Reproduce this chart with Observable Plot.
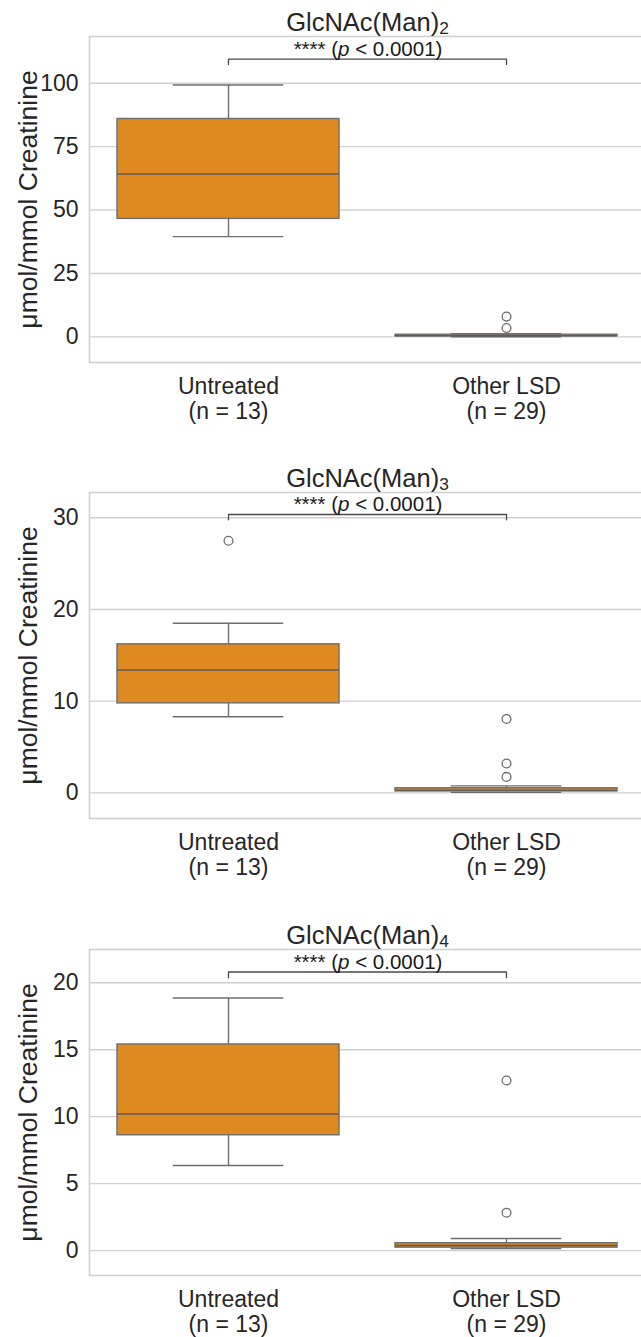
<!DOCTYPE html>
<html>
<head>
<meta charset="utf-8">
<script src="https://cdn.jsdelivr.net/npm/d3@7"></script>
<script src="https://cdn.jsdelivr.net/npm/@observablehq/plot@0.6"></script>
<style>
  html, body { margin: 0; padding: 0; background: #fff; }
  #root { position: relative; width: 641px; height: 1337px; overflow: hidden; background: #fff;
          font-family: "Liberation Sans", Arial, sans-serif; color: #262626; }
  .panel { position: absolute; left: 0; width: 646px; }
  .title { position: absolute; left: 89px; width: 557px; text-align: center; top: 10px;
           font-size: 25.5px; line-height: 25px; color: #262626; white-space: nowrap; }
  .title sub { font-size: 0.68em; vertical-align: -3px; line-height: 0; }
</style>
</head>
<body>
<div id="root"></div>
<script>
// ---- data ----
const groups = ["Untreated", "Other LSD"];
const groupN = [13, 29];
const yLabel = "μmol/mmol Creatinine";
const sigLabel = "**** (p < 0.0001)";

// titles: base + subscript
const titleBase = ["GlcNAc(Man)", "GlcNAc(Man)", "GlcNAc(Man)"];
const titleSub = ["2", "3", "4"];

// five-number summaries per group: [lower whisker, Q1, median, Q3, upper whisker]
const man2Untreated = [39.5, 46.5, 64.2, 85.9, 99.3];
const man2Other     = [0.05, 0.25, 0.45, 0.85, 1.3];
const man3Untreated = [8.3, 9.76, 13.4, 16.2, 18.5];
const man3Other     = [0.05, 0.15, 0.3, 0.5, 0.76];
const man4Untreated = [6.35, 8.61, 10.2, 15.39, 18.86];
const man4Other     = [0.15, 0.22, 0.38, 0.55, 0.9];

// outliers per group
const man2Outliers = [[], [3.5, 8.0]];
const man3Outliers = [[27.5], [1.74, 3.2, 8.06]];
const man4Outliers = [[], [2.83, 12.7]];

// y-axis ticks
const man2Ticks = [0, 25, 50, 75, 100];
const man3Ticks = [0, 10, 20, 30];
const man4Ticks = [0, 5, 10, 15, 20];

// y-axis limits
const man2Domain = [-10.1, 118.4];
const man3Domain = [-2.8, 32.76];
const man4Domain = [-1.86, 22.48];

// significance bracket: [bar level, tip level]
const man2Bracket = [109.5, 107.4];
const man3Bracket = [30.36, 29.78];
const man4Bracket = [20.8, 20.38];

// ---- drawing ----
const panels = [
  {stats: [man2Untreated, man2Other], outliers: man2Outliers, ticks: man2Ticks, domain: man2Domain, bracket: man2Bracket},
  {stats: [man3Untreated, man3Other], outliers: man3Outliers, ticks: man3Ticks, domain: man3Domain, bracket: man3Bracket},
  {stats: [man4Untreated, man4Other], outliers: man4Outliers, ticks: man4Ticks, domain: man4Domain, bracket: man4Bracket}
];
const panelTops = [0, 456, 913];
const panelHeights = [456, 456, 424];

const boxFill = "#df8a21";
const lineGray = "#6e6e6e";
const gridGray = "#d0d0d0";

const root = document.getElementById("root");

panels.forEach((p, k) => {
  const rows = groups.map((g, i) => ({
    g, lo: p.stats[i][0], q1: p.stats[i][1], med: p.stats[i][2], q3: p.stats[i][3], hi: p.stats[i][4]
  }));
  const outs = [];
  groups.forEach((g, i) => p.outliers[i].forEach(v => outs.push({g, v})));
  const br = [
    {g: groups[0], y: p.bracket[1]}, {g: groups[0], y: p.bracket[0]},
    {g: groups[1], y: p.bracket[0]}, {g: groups[1], y: p.bracket[1]}
  ];
  const H = panelHeights[k];
  const frameH = 326;
  const chart = Plot.plot({
    width: 646,
    height: H,
    marginTop: 36,
    marginBottom: H - 36 - frameH,
    marginLeft: 89,
    marginRight: 0,
    style: {fontFamily: "'Liberation Sans', Arial, sans-serif", color: "#262626", background: "white", overflow: "visible"},
    x: {type: "band", domain: groups, paddingInner: 0.2, paddingOuter: 0.1},
    y: {domain: p.domain},
    marks: [
      Plot.gridY(p.ticks, {stroke: gridGray, strokeOpacity: 1, strokeWidth: 1.4}),
      Plot.frame({stroke: gridGray, strokeWidth: 1.6}),
      Plot.axisY(p.ticks, {tickSize: 0, tickPadding: 11, fontSize: 23, label: null, fill: "#262626"}),
      Plot.axisX({tickSize: 0, tickPadding: 14.5, fontSize: 23, lineHeight: 1.06, label: null, fill: "#262626",
                  tickFormat: d => `${d}\n(n = ${groupN[groups.indexOf(d)]})`}),
      Plot.ruleX(rows, {x: "g", y1: "q3", y2: "hi", stroke: lineGray, strokeWidth: 1.4}),
      Plot.ruleX(rows, {x: "g", y1: "lo", y2: "q1", stroke: lineGray, strokeWidth: 1.4}),
      Plot.tickY(rows, {x: "g", y: "hi", stroke: lineGray, strokeWidth: 1.4, insetLeft: 55.7, insetRight: 55.7}),
      Plot.tickY(rows, {x: "g", y: "lo", stroke: lineGray, strokeWidth: 1.4, insetLeft: 55.7, insetRight: 55.7}),
      Plot.barY(rows, {x: "g", y1: "q1", y2: "q3", fill: boxFill, stroke: lineGray, strokeWidth: 1.4}),
      Plot.tickY(rows, {x: "g", y: "med", stroke: "#5c5c5c", strokeWidth: 1.4}),
      Plot.dot(outs, {x: "g", y: "v", r: 4.4, stroke: lineGray, strokeWidth: 1.3, fill: "none"}),
      Plot.line(br, {x: "g", y: "y", stroke: "#4a4a4a", strokeWidth: 1.3}),
      Plot.text([{y: p.bracket[0], t: sigLabel}], {y: "y", text: "t", lineAnchor: "bottom", dy: -3.5, fontSize: 20.5, fill: "#1a1a1a"}),
      Plot.text([yLabel], {frameAnchor: "left", textAnchor: "middle", lineAnchor: "middle", rotate: -90, dx: -61, fontSize: 26.5, fill: "#262626"})
    ]
  });
  // italic p in the significance label
  chart.querySelectorAll("text").forEach(t => {
    if (t.textContent === sigLabel) {
      const ns = "http://www.w3.org/2000/svg";
      const target = t.querySelector("tspan") || t;
      target.textContent = "";
      const parts = [["**** (", null], ["p", "italic"], [" < 0.0001)", null]];
      parts.forEach(([s, st]) => {
        const ts = document.createElementNS(ns, "tspan");
        ts.textContent = s;
        if (st) ts.setAttribute("font-style", st);
        target.appendChild(ts);
      });
    }
  });
  const wrap = document.createElement("div");
  wrap.className = "panel";
  wrap.style.top = panelTops[k] + "px";
  wrap.style.height = H + "px";
  wrap.appendChild(chart);
  const title = document.createElement("div");
  title.className = "title";
  title.innerHTML = titleBase[k] + "<sub>" + titleSub[k] + "</sub>";
  wrap.appendChild(title);
  root.appendChild(wrap);
});
</script>
</body>
</html>
